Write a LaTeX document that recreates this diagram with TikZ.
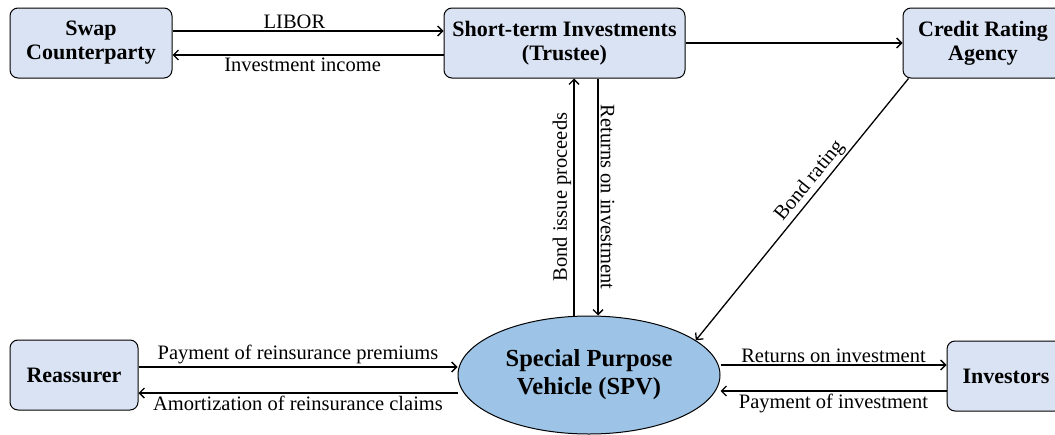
\documentclass[tikz,border=0pt]{standalone}
\usepackage{fontspec}
\setmainfont{Liberation Serif}
\usetikzlibrary{shapes.geometric,arrows.meta}
\definecolor{boxblue}{RGB}{218,227,243}
\definecolor{spvblue}{RGB}{157,195,230}

\begin{document}
\begin{tikzpicture}[x=1pt,y=-1pt,
	party/.style={draw, line width=1pt, rounded corners=8pt, fill=boxblue, align=center,
		font=\bfseries\fontsize{22}{24}\selectfont, minimum height=70pt},
	vehicle/.style={ellipse, draw, line width=1pt, fill=spvblue, align=center,
		font=\bfseries\fontsize{24.5}{28}\selectfont, inner sep=0pt, minimum width=262pt, minimum height=118pt},
	flow/.style={-{Straight Barb[length=5pt,width=10pt]}, line width=1.3pt},
	lbl/.style={font=\fontsize{20.5}{22}\selectfont, inner sep=2pt}]
	\useasboundingbox (0,0) rectangle (1055,434);

	\node [party, minimum width=162pt] (swap) at (91,43) {Swap\\Counterparty};
	\node [party, minimum width=241pt] (trustee) at (564.5,43) {Short-term Investments\\(Trustee)};
	\node [party, minimum width=160pt] (credit) at (983,43) {Credit Rating\\Agency};
	\node [party, minimum width=128pt] (reassurer) at (74,375) {Reassurer};
	\node [vehicle] (spv) at (589,375) {Special Purpose\\Vehicle (SPV)};
	\node [party, minimum width=118pt] (investors) at (1006,376) {Investors};

	\draw [flow] ([yshift=12pt]swap.east) -- node [lbl, above, pos=0.45] {LIBOR} ([yshift=12pt]trustee.west);
	\draw [flow] ([yshift=-12pt]trustee.west) -- node [lbl, below, pos=0.52] {Investment income} ([yshift=-12pt]swap.east);
	\draw [flow] (trustee.east) -- (credit.west);

	\draw [flow] ([xshift=-15pt]spv.north) -- node [lbl, sloped, above] {Bond issue proceeds} ([xshift=-15pt]spv.north |- trustee.south);
	\draw [flow] ([xshift=9pt]spv.north |- trustee.south) -- node [lbl, sloped, above] {Returns on investment} ([xshift=9pt]spv.north);
	\draw [flow] ([xshift=6pt]credit.south west) -- node [lbl, sloped, above, pos=0.42] {Bond rating} (spv.18);

	\draw [flow] ([yshift=8pt]reassurer.east) -- node [lbl, above] {Payment of reinsurance premiums} ([yshift=8pt]reassurer.east -| spv.west);
	\draw [flow] ([yshift=-18pt]reassurer.east -| spv.west) -- node [lbl, below] {Amortization of reinsurance claims} ([yshift=-18pt]reassurer.east);
	\draw [flow] ([yshift=11pt]investors.west -| spv.east) -- node [lbl, above] {Returns on investment} ([yshift=11pt]investors.west);
	\draw [flow] ([yshift=-15pt]investors.west) -- node [lbl, below] {Payment of investment} ([yshift=-15pt]investors.west -| spv.east);
\end{tikzpicture}
\end{document}
